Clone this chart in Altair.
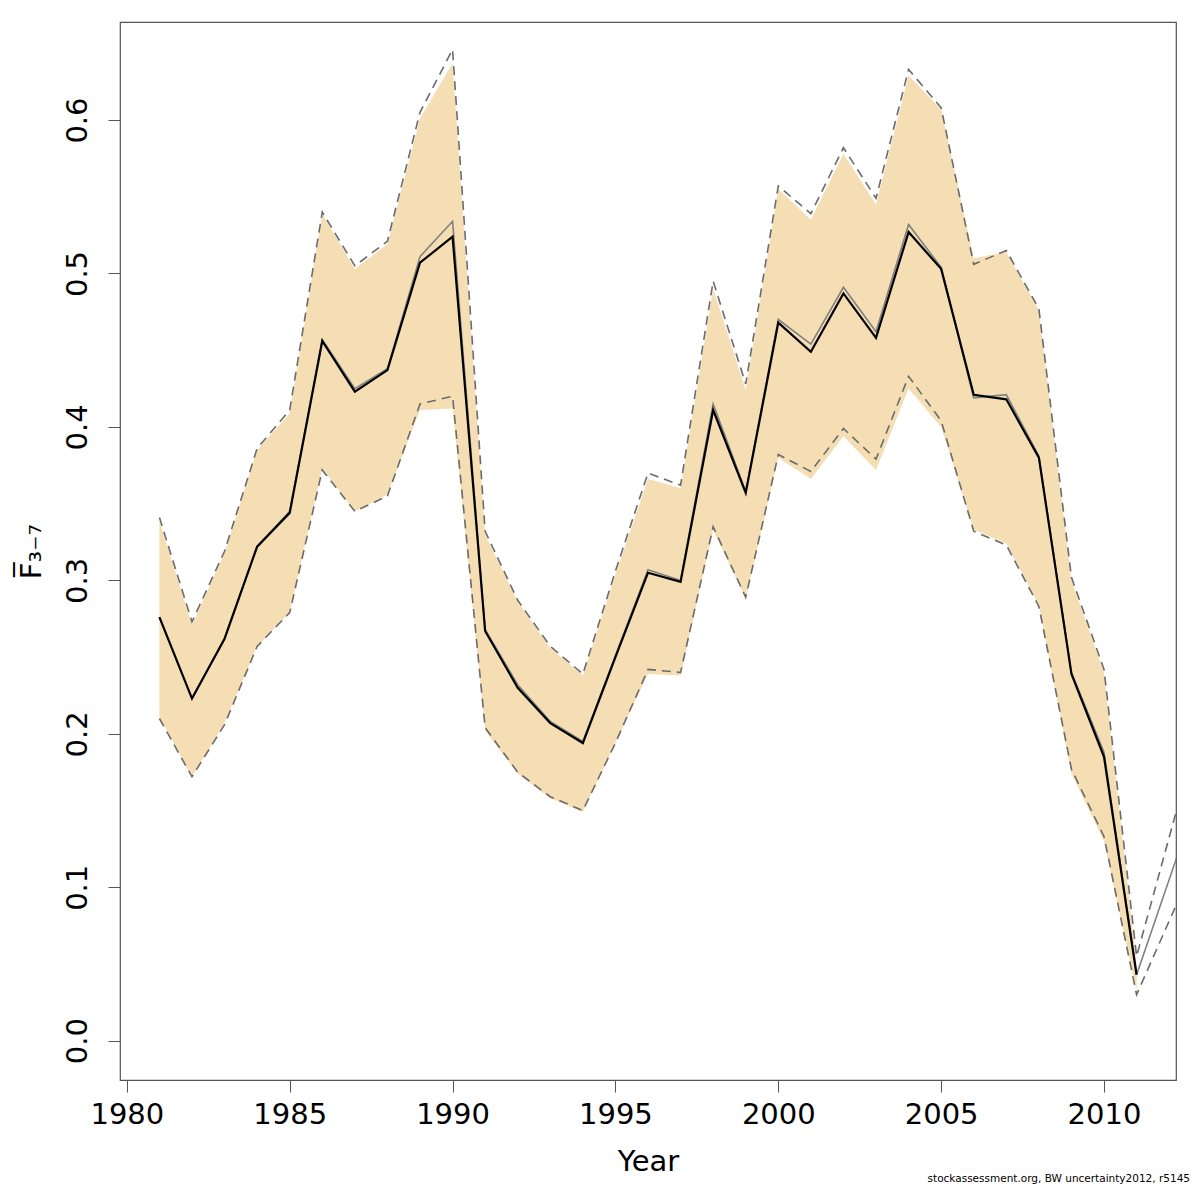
import altair as alt
import pandas as pd

# ---- data ----
years = list(range(1981, 2012))
years_ext = years + [2013]

# main estimate (black line) and its confidence band (wheat fill)
f_est = [0.276, 0.223, 0.262, 0.322, 0.344, 0.456, 0.423, 0.437, 0.507, 0.524,
         0.267, 0.230, 0.207, 0.194, 0.250, 0.305, 0.299, 0.411, 0.357, 0.468,
         0.449, 0.487, 0.458, 0.527, 0.503, 0.421, 0.418, 0.380, 0.239, 0.185,
         0.043]
f_lo = [0.211, 0.172, 0.207, 0.257, 0.279, 0.373, 0.345, 0.356, 0.411, 0.412,
        0.202, 0.174, 0.158, 0.149, 0.194, 0.239, 0.238, 0.333, 0.288, 0.380,
        0.366, 0.394, 0.372, 0.425, 0.400, 0.333, 0.324, 0.284, 0.174, 0.130,
        0.032]
f_hi = [0.339, 0.271, 0.318, 0.385, 0.409, 0.539, 0.503, 0.519, 0.601, 0.637,
        0.330, 0.286, 0.256, 0.238, 0.304, 0.366, 0.360, 0.490, 0.424, 0.555,
        0.535, 0.578, 0.545, 0.629, 0.607, 0.510, 0.514, 0.476, 0.300, 0.240,
        0.050]

# alternative run (grey line) and its bounds (dashed)
g_est = [0.276, 0.223, 0.262, 0.322, 0.345, 0.457, 0.425, 0.438, 0.511, 0.534,
         0.268, 0.232, 0.208, 0.195, 0.251, 0.307, 0.300, 0.415, 0.358, 0.470,
         0.454, 0.491, 0.462, 0.532, 0.504, 0.419, 0.421, 0.381, 0.240, 0.188,
         0.043, 0.167]
g_lo = [0.210, 0.172, 0.206, 0.257, 0.279, 0.372, 0.345, 0.355, 0.415, 0.420,
        0.204, 0.175, 0.159, 0.150, 0.194, 0.242, 0.240, 0.335, 0.289, 0.382,
        0.371, 0.399, 0.379, 0.433, 0.404, 0.332, 0.323, 0.283, 0.177, 0.133,
        0.030, 0.126]
g_hi = [0.341, 0.273, 0.319, 0.386, 0.411, 0.540, 0.505, 0.521, 0.605, 0.646,
        0.332, 0.287, 0.257, 0.239, 0.306, 0.370, 0.362, 0.495, 0.428, 0.557,
        0.539, 0.582, 0.549, 0.633, 0.608, 0.506, 0.515, 0.477, 0.302, 0.242,
        0.055, 0.210]

x_ticks = [1980, 1985, 1990, 1995, 2000, 2005, 2010]
y_ticks = [0.0, 0.1, 0.2, 0.3, 0.4, 0.5, 0.6]

x_title = "Year"
y_title = "F\u0305\u2083\u208b\u2087"
footnote = "stockassessment.org, BW  uncertainty2012, r5145"

main_df = pd.DataFrame({"year": years, "est": f_est, "lo": f_lo, "hi": f_hi})
alt_df = pd.DataFrame({"year": years_ext, "est": g_est, "lo": g_lo, "hi": g_hi})

FONT = "DejaVu Sans"

x_scale = alt.Scale(domain=[1979.79, 2012.21], nice=False, zero=False)
y_scale = alt.Scale(domain=[-0.0256, 0.6639], nice=False, zero=False)

x_axis = alt.Axis(
    values=x_ticks, format="d", title=x_title,
    labelFontSize=29, labelFont=FONT, labelColor="black", labelPadding=8,
    labelFlush=False, labelOverlap=False,
    tickSize=12, tickColor="#555555", tickWidth=1,
    domain=False, grid=False,
    titleFontSize=29, titleFont=FONT, titleFontWeight="normal", titleColor="black",
    titleBaseline="alphabetic", titleY=90,
)
y_axis = alt.Axis(
    values=y_ticks, format=".1f", title=y_title,
    labelAngle=270, labelAlign="center", labelBaseline="alphabetic",
    labelFontSize=29, labelFont=FONT, labelColor="black", labelPadding=22,
    labelFlush=False, labelOverlap=False,
    tickSize=12, tickColor="#555555", tickWidth=1,
    domain=False, grid=False,
    titleFontSize=29, titleFont=FONT, titleFontWeight="normal", titleColor="black",
    titleAngle=270, titleAlign="center", titleBaseline="alphabetic",
    titleX=-80, titleY=529,
)

X = alt.X("year:Q", scale=x_scale, axis=x_axis)


def Yq(field):
    return alt.Y(f"{field}:Q", scale=y_scale, axis=y_axis)


band = alt.Chart(main_df).mark_area(color="#F5DEB3", opacity=1, clip=True).encode(
    x=X, y=Yq("lo"), y2="hi:Q"
)
dash_hi = alt.Chart(alt_df).mark_line(
    color="#6b6b6b", strokeWidth=1.6, strokeDash=[9, 6], clip=True
).encode(x=X, y=Yq("hi"))
dash_lo = alt.Chart(alt_df).mark_line(
    color="#6b6b6b", strokeWidth=1.6, strokeDash=[9, 6], clip=True
).encode(x=X, y=Yq("lo"))
grey_line = alt.Chart(alt_df).mark_line(
    color="#808080", strokeWidth=1.6, clip=True
).encode(x=X, y=Yq("est"))
black_line = alt.Chart(main_df).mark_line(
    color="black", strokeWidth=2.2, clip=True
).encode(x=X, y=Yq("est"))

chart = (
    alt.layer(band, dash_hi, dash_lo, grey_line, black_line)
    .properties(
        width=1056,
        height=1058,
        padding={"left": 112, "top": 14, "right": 16, "bottom": 112},
        autosize=alt.AutoSizeParams(type="none"),
        title=alt.TitleParams(
            text=footnote, orient="bottom", anchor="end", fontSize=10.5,
            font=FONT, fontWeight="normal", color="black", dx=14, offset=-2,
        ),
    )
    .configure(font=FONT)
    .configure_view(stroke="#555555", strokeWidth=1.2)
)

chart.save("out.html", embed_options={"renderer": "svg", "actions": False})
